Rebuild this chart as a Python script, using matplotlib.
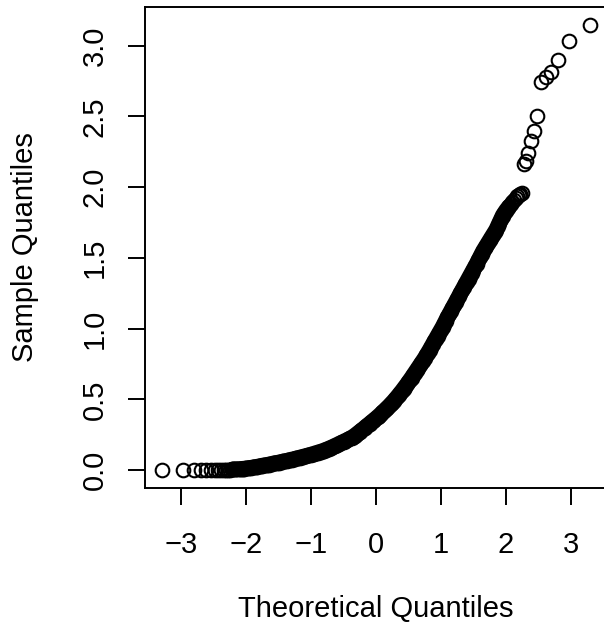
import numpy as np
import matplotlib
matplotlib.use("Agg")
import matplotlib.pyplot as plt

plt.rcParams['font.family'] = ['Liberation Sans', 'DejaVu Sans']

# normal Q-Q plot
# lower tail (single points, theoretical quantiles of n=1000)
tail_lo_x = [-3.291, -2.968, -2.807, -2.697, -2.612, -2.543, -2.484,
             -2.432, -2.387, -2.346, -2.308, -2.273, -2.241, -2.211]
tail_lo_y = [0.000, 0.000, 0.001, 0.001, 0.001, 0.002, 0.002,
             0.002, 0.003, 0.003, 0.003, 0.004, 0.004, 0.005]

# dense body of the curve
body_x = [-2.200, -2.175, -2.150, -2.125, -2.100, -2.075, -2.050, -2.025, -2.000, -1.975,
          -1.950, -1.925, -1.900, -1.875, -1.850, -1.825, -1.800, -1.775, -1.750, -1.725,
          -1.700, -1.675, -1.650, -1.625, -1.600, -1.575, -1.550, -1.525, -1.500, -1.475,
          -1.450, -1.425, -1.400, -1.375, -1.350, -1.325, -1.300, -1.275, -1.250, -1.225,
          -1.200, -1.175, -1.150, -1.125, -1.100, -1.075, -1.050, -1.025, -1.000, -0.975,
          -0.950, -0.925, -0.900, -0.875, -0.850, -0.825, -0.800, -0.775, -0.750, -0.725,
          -0.700, -0.675, -0.650, -0.625, -0.600, -0.575, -0.550, -0.525, -0.500, -0.475,
          -0.450, -0.425, -0.400, -0.375, -0.350, -0.325, -0.300, -0.275, -0.250, -0.225,
          -0.200, -0.175, -0.150, -0.125, -0.100, -0.075, -0.050, -0.025, 0.000, 0.025,
          0.050, 0.075, 0.100, 0.125, 0.150, 0.175, 0.200, 0.225, 0.250, 0.275,
          0.300, 0.325, 0.350, 0.375, 0.400, 0.425, 0.450, 0.475, 0.500, 0.525,
          0.550, 0.575, 0.600, 0.625, 0.650, 0.675, 0.700, 0.725, 0.750, 0.775,
          0.800, 0.825, 0.850, 0.875, 0.900, 0.925, 0.950, 0.975, 1.000, 1.025,
          1.050, 1.075, 1.100, 1.125, 1.150, 1.175, 1.200, 1.225, 1.250, 1.275,
          1.300, 1.325, 1.350, 1.375, 1.400, 1.425, 1.450, 1.475, 1.500, 1.525,
          1.550, 1.575, 1.600, 1.625, 1.650, 1.675, 1.700, 1.725, 1.750, 1.775,
          1.800, 1.825, 1.850, 1.875, 1.900, 1.925, 1.950, 1.975, 2.000, 2.025,
          2.050, 2.075, 2.100, 2.125, 2.150, 2.175, 2.200, 2.211, 2.241]
body_y = [0.005, 0.006, 0.006, 0.007, 0.008, 0.009, 0.010, 0.011, 0.013, 0.014,
          0.016, 0.017, 0.019, 0.021, 0.023, 0.025, 0.027, 0.030, 0.032, 0.034,
          0.036, 0.038, 0.040, 0.043, 0.045, 0.048, 0.050, 0.052, 0.054, 0.057,
          0.059, 0.062, 0.064, 0.066, 0.069, 0.072, 0.075, 0.077, 0.080, 0.083,
          0.086, 0.089, 0.092, 0.095, 0.098, 0.101, 0.104, 0.107, 0.110, 0.114,
          0.117, 0.121, 0.124, 0.128, 0.131, 0.135, 0.139, 0.144, 0.148, 0.153,
          0.158, 0.163, 0.168, 0.174, 0.179, 0.185, 0.190, 0.196, 0.201, 0.207,
          0.212, 0.218, 0.224, 0.230, 0.237, 0.245, 0.254, 0.263, 0.272, 0.281,
          0.290, 0.300, 0.309, 0.319, 0.328, 0.338, 0.347, 0.357, 0.366, 0.376,
          0.386, 0.397, 0.408, 0.419, 0.430, 0.442, 0.453, 0.465, 0.477, 0.490,
          0.503, 0.517, 0.531, 0.546, 0.560, 0.575, 0.590, 0.606, 0.622, 0.638,
          0.655, 0.672, 0.689, 0.706, 0.723, 0.740, 0.757, 0.775, 0.792, 0.811,
          0.830, 0.850, 0.871, 0.891, 0.911, 0.930, 0.950, 0.970, 0.990, 1.012,
          1.035, 1.057, 1.080, 1.101, 1.122, 1.144, 1.165, 1.186, 1.207, 1.229,
          1.250, 1.271, 1.292, 1.313, 1.333, 1.354, 1.375, 1.396, 1.418, 1.440,
          1.460, 1.483, 1.506, 1.528, 1.550, 1.569, 1.588, 1.607, 1.625, 1.644,
          1.662, 1.681, 1.700, 1.725, 1.750, 1.775, 1.800, 1.818, 1.835, 1.850,
          1.865, 1.880, 1.895, 1.910, 1.925, 1.935, 1.945, 1.952, 1.958]

# upper tail (single points)
tail_hi_x = [2.273, 2.308, 2.346, 2.387, 2.432, 2.484,
             2.543, 2.612, 2.697, 2.807, 2.968, 3.291]
tail_hi_y = [2.166, 2.182, 2.241, 2.330, 2.399, 2.503,
             2.747, 2.779, 2.818, 2.896, 3.037, 3.148]

xticks = [-3, -2, -1, 0, 1, 2, 3]
yticks = [0.0, 0.5, 1.0, 1.5, 2.0, 2.5, 3.0]
ytick_labels = ['0.0', '0.5', '1.0', '1.5', '2.0', '2.5', '3.0']

x = np.array(tail_lo_x + body_x + tail_hi_x)
y = np.array(tail_lo_y + body_y + tail_hi_y)

msize = 9.8
mew = 1.5

fig = plt.figure(figsize=(6.04, 6.33), dpi=100)
# right edge of the box is cut off in the reference
ax = fig.add_axes([145/604, 145/633, 462/604, 481/633])

# the ~1000 overlapping circles in the body merge into a solid black band
bx = np.array(body_x)
by = np.array(body_y)
solid = (bx >= -2.2) & (bx <= 2.05)
ax.plot(bx[solid], by[solid], color='black', linewidth=msize + mew,
        solid_capstyle='round', solid_joinstyle='round')

ax.plot(x, y, linestyle='none', marker='o', markersize=msize,
        markerfacecolor='none', markeredgecolor='black', markeredgewidth=mew)

# R style 4% axis extension
def ext(lo, hi):
    d = (hi - lo) * 0.04
    return lo - d, hi + d

ax.set_xlim(*ext(x.min(), x.max()))
ax.set_ylim(*ext(y.min(), y.max()))

ax.set_xticks(xticks)
ax.set_xticklabels([str(t).replace('-', '\u2212') for t in xticks])
ax.set_yticks(yticks)
ax.set_yticklabels(ytick_labels, rotation=90, va='center')

for s in ax.spines.values():
    s.set_linewidth(1.4)
ax.tick_params(direction='out', length=12.2, width=1.4, labelsize=21,
               pad=19)
ax.tick_params(axis='y', pad=14)

ax.set_xlabel('Theoretical Quantiles', fontsize=21, labelpad=26)
ax.set_ylabel('Sample Quantiles', fontsize=21, labelpad=30)

fig.savefig('out.png', dpi=100, facecolor='white')
